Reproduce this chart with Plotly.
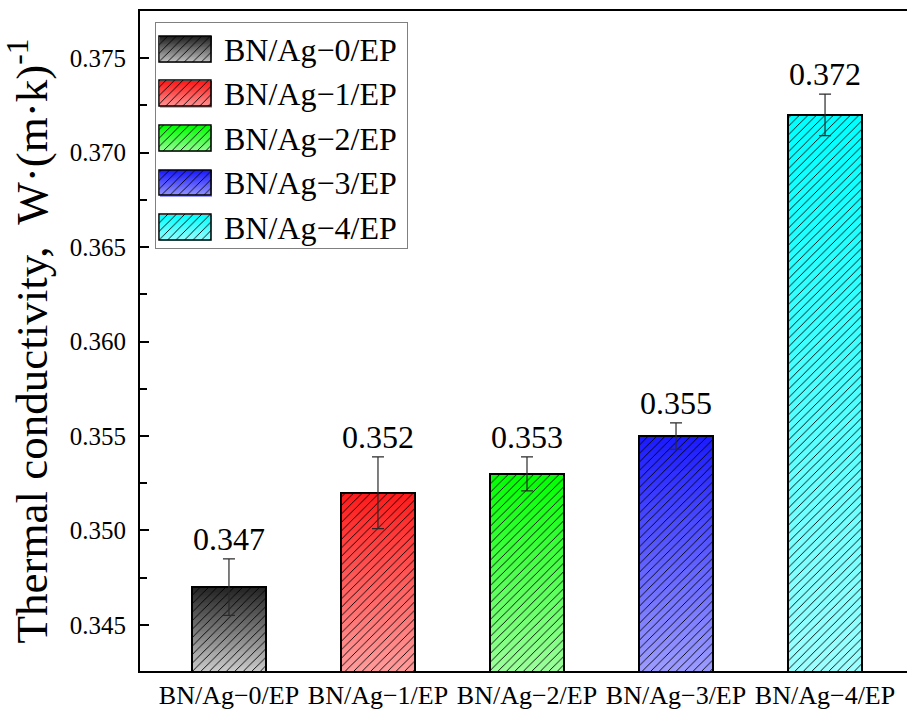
import plotly.graph_objects as go

# ---- data ----
categories = ["BN/Ag\u22120/EP", "BN/Ag\u22121/EP", "BN/Ag\u22122/EP", "BN/Ag\u22123/EP", "BN/Ag\u22124/EP"]
conductivity = [0.347, 0.352, 0.353, 0.355, 0.372]
error = [0.0015, 0.0019, 0.0009, 0.0007, 0.0011]
value_labels = ["0.347", "0.352", "0.353", "0.355", "0.372"]

# gradient colours (top of bar -> bottom of bar)
top_colors = [(34, 34, 34), (255, 26, 26), (0, 255, 0), (26, 26, 255), (0, 255, 255)]
bottom_colors = [(204, 204, 204), (255, 156, 156), (156, 255, 156), (156, 156, 255), (156, 255, 255)]

Y_MIN, Y_MAX = 0.34256, 0.3775
FONT = "Liberation Serif, Times New Roman, serif"
N_SEG = 60


def mix(c0, c1, t):
    return "rgb(%d,%d,%d)" % tuple(round(a + (b - a) * t) for a, b in zip(c0, c1))


def gradient_stack(fig, xs, base0, tops, width, xaxis="x", yaxis="y"):
    """Stack thin bar slices from base0 up to each top, shading bottom->top."""
    for k in range(N_SEG):
        bases, heights, cols = [], [], []
        for i, (b0, tp) in enumerate(zip(base0, tops)):
            h = (tp - b0) / N_SEG
            bases.append(b0 + h * k)
            heights.append(h * 1.02)
            cols.append(mix(bottom_colors[i], top_colors[i], (k + 0.5) / N_SEG))
        fig.add_trace(go.Bar(
            x=xs, y=heights, base=bases, width=width,
            marker=dict(color=cols, line=dict(width=0)),
            showlegend=False, hoverinfo="skip", xaxis=xaxis, yaxis=yaxis,
        ))


HATCH = dict(shape="/", fgcolor="black", bgcolor="rgba(0,0,0,0)",
             size=6, solidity=0.15, fillmode="replace")

fig = go.Figure()

# main bars: gradient fill
gradient_stack(fig, categories, [Y_MIN] * len(conductivity), conductivity, 0.5)

# hatch + outline + error bars on top
fig.add_trace(go.Bar(
    x=categories, y=conductivity, width=0.5,
    marker=dict(color="rgba(0,0,0,0)", line=dict(color="black", width=2),
                pattern=HATCH),
    error_y=dict(type="data", array=error, visible=True,
                 color="#2a2a2a", thickness=1.2, width=6),
    showlegend=False, hoverinfo="skip",
))

# value labels above the error bars
for c, v, e, lab in zip(categories, conductivity, error, value_labels):
    fig.add_annotation(x=c, y=v + e, text=lab, showarrow=False,
                       yanchor="bottom", yshift=0,
                       font=dict(family=FONT, size=32, color="black"))

# ---- legend box drawn as a small inset axis ----
LEG_W, LEG_H = 251, 226
row_centers = [LEG_H - 27 - 44.6 * i for i in range(len(categories))]
patch_h = 26
patch_x = [29.8] * len(categories)
patch_bottom = [r - patch_h / 2 for r in row_centers]
patch_top = [r + patch_h / 2 for r in row_centers]

gradient_stack(fig, patch_x, patch_bottom, patch_top, 52, xaxis="x2", yaxis="y2")
fig.add_trace(go.Bar(
    x=patch_x, y=[patch_h] * len(categories), base=patch_bottom, width=52,
    marker=dict(color="rgba(0,0,0,0)", line=dict(color="black", width=1.5),
                pattern=HATCH),
    showlegend=False, hoverinfo="skip", xaxis="x2", yaxis="y2",
))
for name, r in zip(categories, row_centers):
    fig.add_annotation(x=66, y=r, xref="x2", yref="y2", text=name,
                       showarrow=False, xanchor="left", yanchor="middle",
                       font=dict(family=FONT, size=32, color="black"))

fig.update_layout(
    width=907, height=711,
    margin=dict(l=140, r=0, t=11, b=40),
    paper_bgcolor="white", plot_bgcolor="white",
    barmode="overlay", bargap=0,
    showlegend=False,
    font=dict(family=FONT, color="black"),
    xaxis=dict(
        type="category", range=[-0.597, 4.55],
        showline=True, linecolor="black", linewidth=2, mirror=True,
        ticks="", showgrid=False, zeroline=False, tickangle=0,
        tickfont=dict(family=FONT, size=26, color="black"),
    ),
    yaxis=dict(
        range=[Y_MIN, Y_MAX], dtick=0.005, tick0=0.345, tickformat=".3f",
        showline=True, linecolor="black", linewidth=2, mirror=False,
        ticks="inside", ticklen=9, tickwidth=1.5, tickcolor="black",
        minor=dict(ticks="inside", ticklen=7, tickwidth=1.5, dtick=0.0025,
                   tickcolor="black", showgrid=False),
        showgrid=False, zeroline=False, ticklabelstandoff=7,
        tickfont=dict(family=FONT, size=25, color="black"),
        title=dict(text="Thermal conductivity,  W\u00b7(m\u00b7k)<sup>-1</sup>",
                   font=dict(family=FONT, size=45, color="black"), standoff=12),
    ),
    xaxis2=dict(
        domain=[0.0205, 0.3477], anchor="y2", range=[0, LEG_W],
        showline=True, mirror=True, linecolor="#808080", linewidth=1.2,
        showticklabels=False, ticks="", showgrid=False, zeroline=False,
    ),
    yaxis2=dict(
        domain=[0.6405, 0.9823], anchor="x2", range=[0, LEG_H],
        showline=True, mirror=True, linecolor="#808080", linewidth=1.2,
        showticklabels=False, ticks="", showgrid=False, zeroline=False,
    ),
)

fig.write_html("out.html")
